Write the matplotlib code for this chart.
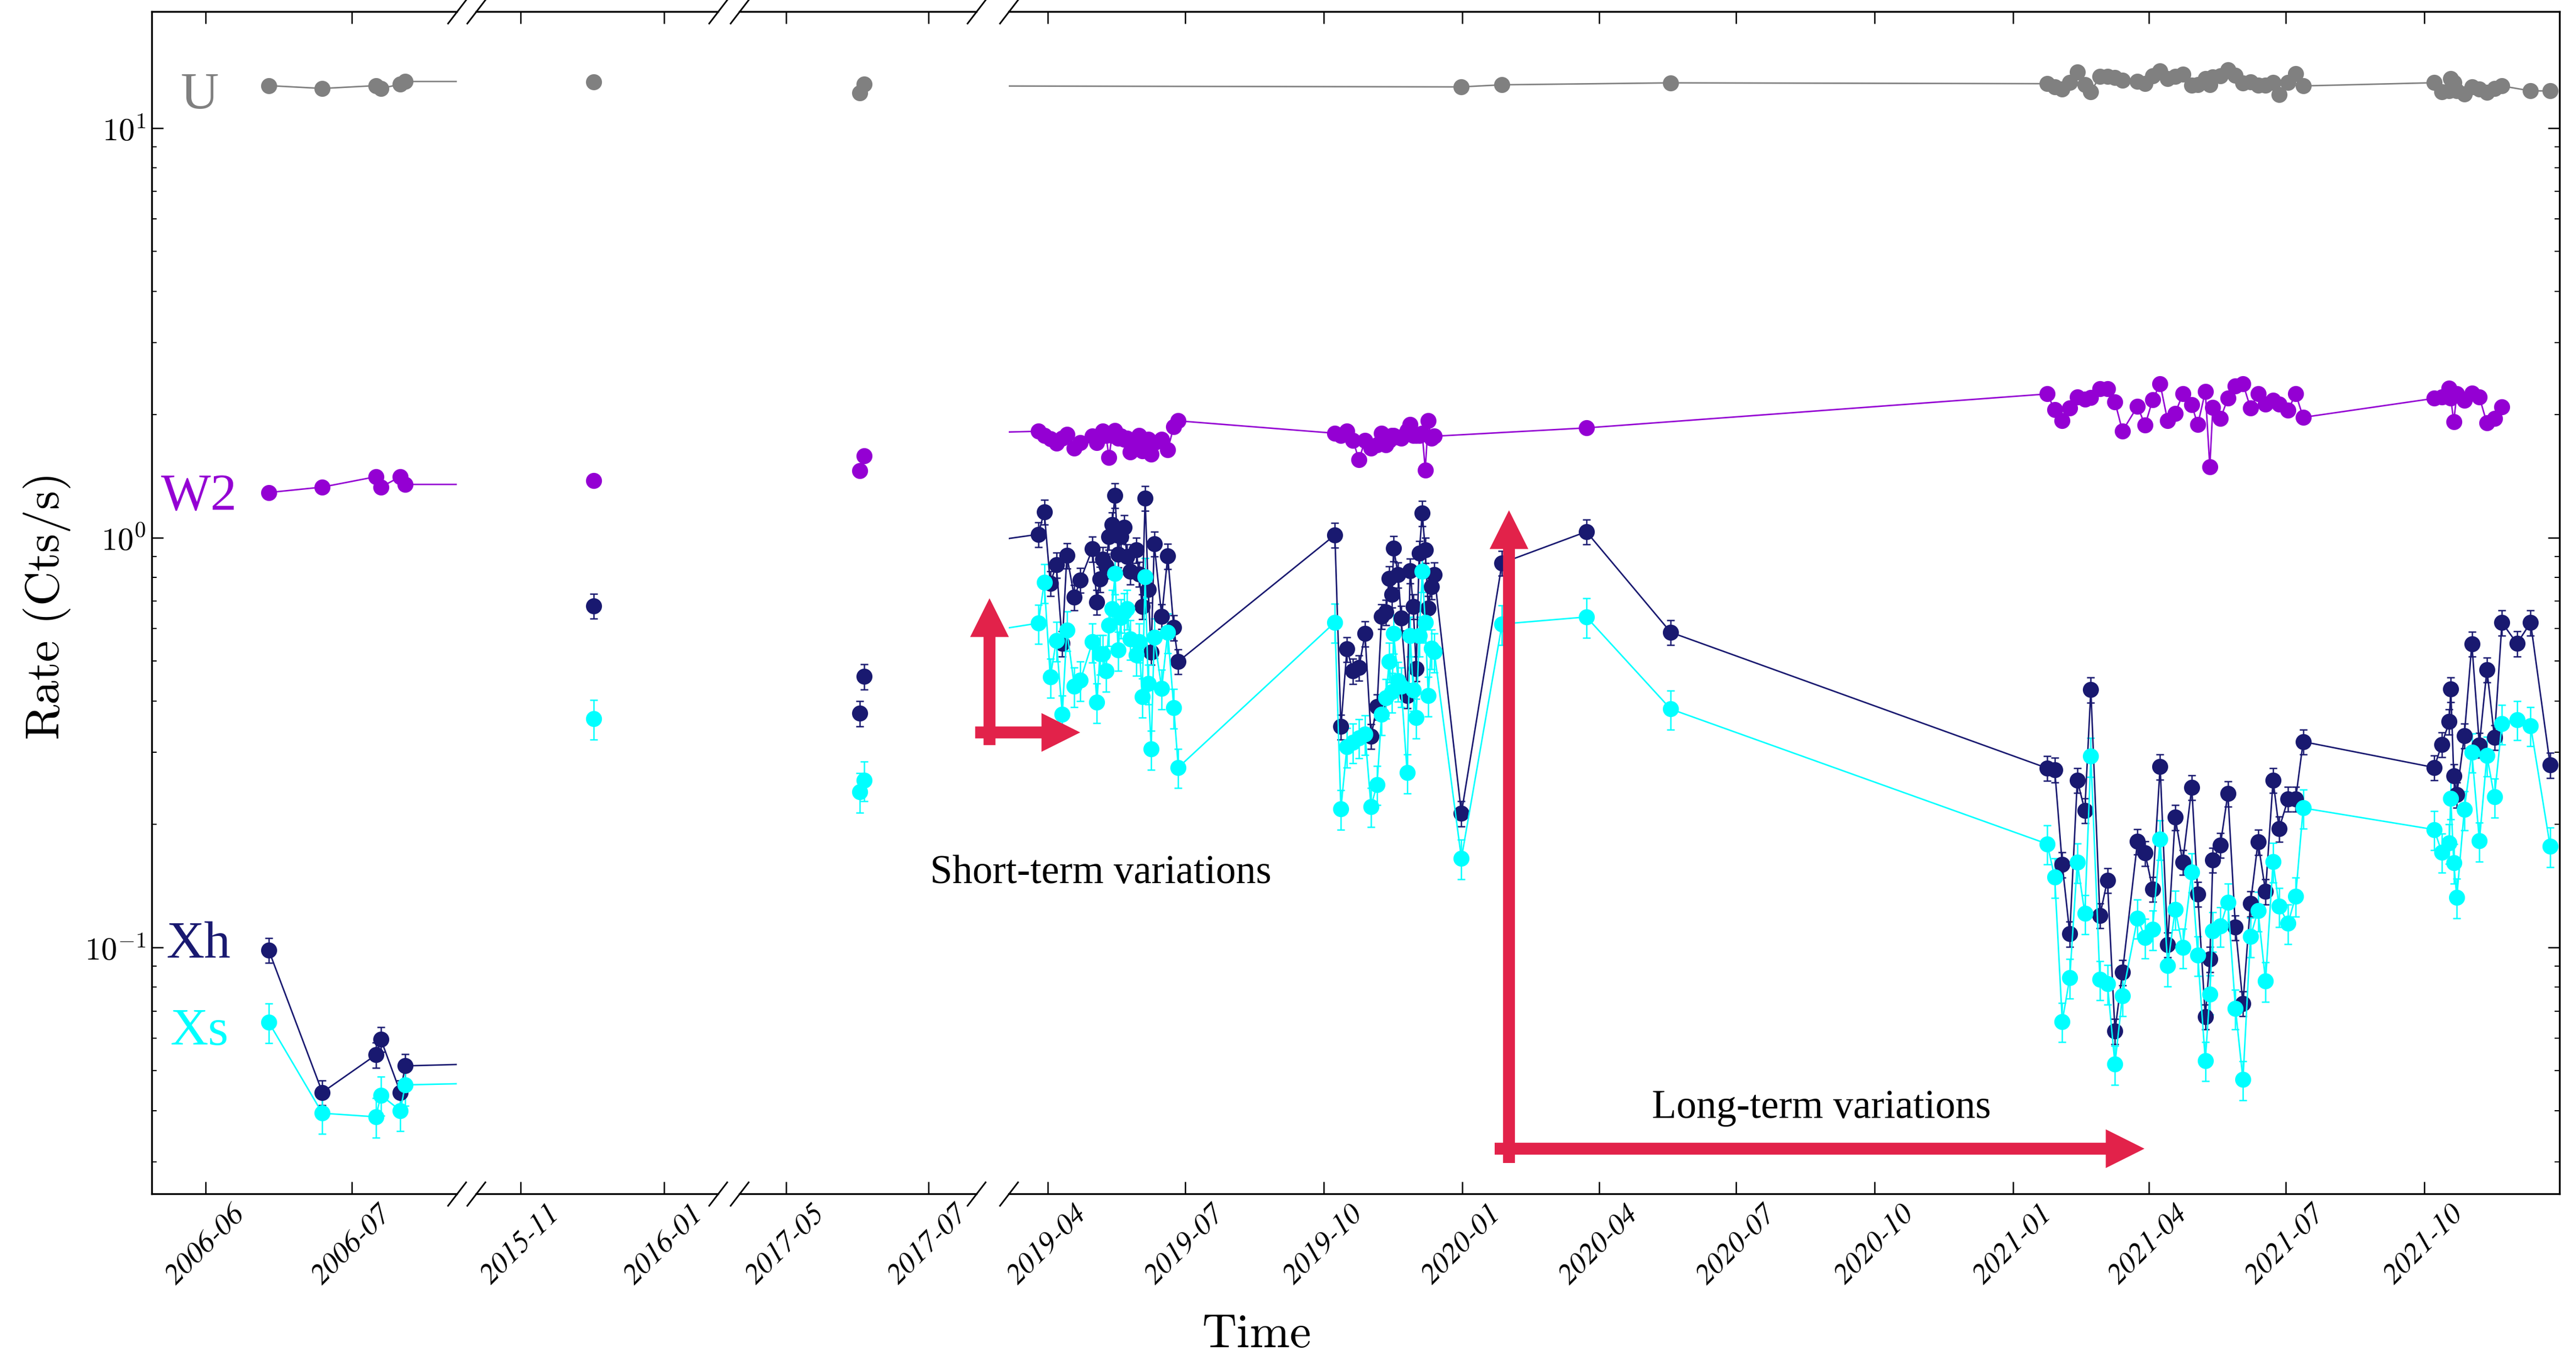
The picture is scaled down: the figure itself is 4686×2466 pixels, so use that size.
import matplotlib
matplotlib.use('Agg')
import matplotlib.pyplot as plt
from matplotlib.ticker import FuncFormatter, LogLocator, NullFormatter
import numpy as np
import pandas as pd

W, H, DPI = 4686, 2466, 300
plt.rcParams['mathtext.fontset'] = 'cm'
plt.rcParams['axes.linewidth'] = 0.8

# ---------------- data -------------------------------------------------
# observation epochs
t_2006 = ['2006-06-14', '2006-06-25', '2006-07-06', '2006-07-07', '2006-07-11', '2006-07-12']
t_2015 = ['2015-12-02']
t_2017 = ['2017-06-02', '2017-06-04']
t_2019a = ['2019-03-26', '2019-03-30', '2019-04-03', '2019-04-07', '2019-04-11', '2019-04-14',
           '2019-04-19', '2019-04-23', '2019-05-01', '2019-05-04', '2019-05-06', '2019-05-08',
           '2019-05-10', '2019-05-12', '2019-05-14', '2019-05-16', '2019-05-18', '2019-05-20',
           '2019-05-22', '2019-05-24', '2019-05-26', '2019-05-30', '2019-06-01', '2019-06-03',
           '2019-06-05', '2019-06-07', '2019-06-09', '2019-06-11', '2019-06-16', '2019-06-20',
           '2019-06-24', '2019-06-27']
t_2019b = ['2019-10-09', '2019-10-13', '2019-10-17', '2019-10-21', '2019-10-25', '2019-10-29',
           '2019-11-02', '2019-11-06', '2019-11-09', '2019-11-12', '2019-11-14', '2019-11-16',
           '2019-11-17', '2019-11-20', '2019-11-22', '2019-11-26', '2019-11-28', '2019-11-30',
           '2019-12-02', '2019-12-04', '2019-12-06', '2019-12-08', '2019-12-10', '2019-12-12',
           '2019-12-14']
t_2020_x = ['2020-01-01', '2020-01-28', '2020-03-24', '2020-05-19']
t_2020_w2 = ['2020-03-24']
t_2020_u = ['2020-01-01', '2020-01-28', '2020-05-19']
t_2021a = ['2021-01-24', '2021-01-29', '2021-02-03', '2021-02-08', '2021-02-13', '2021-02-18',
           '2021-02-22', '2021-02-28', '2021-03-05', '2021-03-10', '2021-03-15', '2021-03-25',
           '2021-03-30', '2021-04-04', '2021-04-09', '2021-04-14', '2021-04-19', '2021-04-24',
           '2021-04-30', '2021-05-04', '2021-05-09', '2021-05-12', '2021-05-14', '2021-05-19',
           '2021-05-24', '2021-05-29', '2021-06-03', '2021-06-08', '2021-06-13', '2021-06-18',
           '2021-06-23', '2021-06-27', '2021-07-03', '2021-07-08', '2021-07-13']
t_2021b = ['2021-10-08', '2021-10-13', '2021-10-18', '2021-10-19', '2021-10-21', '2021-10-23',
           '2021-10-28', '2021-11-02', '2021-11-07', '2021-11-12', '2021-11-17', '2021-11-22',
           '2021-12-02', '2021-12-11', '2021-12-24']
t_2021b_w2 = t_2021b[:12]
t_2021b_u = t_2021b[:12] + t_2021b[13:]

# UVOT U (Cts/s)
u_early = [12.7, 12.5, 12.7, 12.5, 12.8, 13.0, 12.97, 12.2, 12.8]
u_2020 = [12.61, 12.76, 12.9]
u_2021a = [12.84, 12.61, 12.45, 12.91, 13.71, 12.78, 12.28, 13.37, 13.37, 13.28, 13.07, 13.0,
           12.84, 13.42, 13.78, 13.19, 13.37, 13.52, 12.73, 12.78, 13.23, 12.78, 13.33, 13.42,
           13.86, 13.47, 12.88, 12.95, 12.73, 12.73, 12.91, 12.07, 12.91, 13.59, 12.68]
u_2021b = [12.91, 12.28, 12.33, 13.23, 12.91, 12.33, 12.11, 12.61, 12.45, 12.23, 12.5, 12.68,
           12.33, 12.33]

# UVOT W2
w2_early = [1.29, 1.33, 1.41, 1.33, 1.41, 1.35, 1.38, 1.46, 1.585]
w2_2019a = [1.82, 1.78, 1.745, 1.70, 1.75, 1.79, 1.655, 1.71, 1.77, 1.71, 1.78, 1.82, 1.78,
            1.57, 1.78, 1.83, 1.75, 1.77, 1.74, 1.75, 1.62, 1.71, 1.78, 1.63, 1.73, 1.74,
            1.60, 1.71, 1.74, 1.64, 1.87, 1.93]
w2_2019b = [1.80, 1.78, 1.82, 1.73, 1.55, 1.73, 1.655, 1.686, 1.80, 1.686, 1.73, 1.78, 1.78,
            1.76, 1.75, 1.83, 1.89, 1.78, 1.78, 1.78, 1.80, 1.465, 1.93, 1.75, 1.77]
w2_2020 = [1.855]
w2_2021a = [2.245, 2.054, 1.93, 2.072, 2.21, 2.178, 2.197, 2.31, 2.31, 2.147, 1.823, 2.095,
            1.883, 2.17, 2.375, 1.93, 2.011, 2.245, 2.11, 1.89, 2.273, 1.492, 2.084, 1.954,
            2.19, 2.35, 2.38, 2.076, 2.245, 2.121, 2.166, 2.121, 2.046, 2.25, 1.968]
w2_2021b = [2.19, 2.205, 2.317, 2.19, 1.923, 2.245, 2.166, 2.257, 2.205, 1.906, 1.958, 2.09]

# XRT hard band
xh_early = [0.0985, 0.0443, 0.0547, 0.0597, 0.0443, 0.0514, 0.682, 0.373, 0.459]
xh_2019a = [1.02, 1.157, 0.774, 0.859, 0.552, 0.906, 0.716, 0.789, 0.94, 0.697, 0.793, 0.887,
            0.855, 1.006, 1.077, 1.27, 0.911, 1.006, 1.06, 0.9, 0.828, 0.934, 0.816, 0.68,
            1.25, 0.748, 0.526, 0.967, 0.643, 0.903, 0.604, 0.499]
xh_2019b = [1.016, 0.346, 0.535, 0.473, 0.482, 0.584, 0.328, 0.387, 0.643, 0.659, 0.796, 0.727,
            0.943, 0.813, 0.637, 0.412, 0.831, 0.680, 0.48, 0.917, 1.149, 0.934, 0.673, 0.76,
            0.813]
xh_2020 = [0.2126, 0.868, 1.035, 0.588]
xh_2021a = [0.274, 0.2715, 0.1595, 0.108, 0.256, 0.216, 0.426, 0.1197, 0.146, 0.0625, 0.087,
            0.1816, 0.170, 0.139, 0.2765, 0.1016, 0.208, 0.1615, 0.246, 0.135, 0.0678, 0.0937,
            0.1637, 0.178, 0.2375, 0.112, 0.073, 0.128, 0.181, 0.137, 0.256, 0.195, 0.2306,
            0.2306, 0.318]
xh_2021b = [0.275, 0.313, 0.356, 0.427, 0.262, 0.236, 0.329, 0.551, 0.312, 0.477, 0.326, 0.621,
            0.552, 0.621, 0.279]

# XRT soft band
xs_early = [0.0657, 0.0394, 0.0386, 0.0436, 0.040, 0.0462, 0.362, 0.24, 0.256]
xs_2019a = [0.619, 0.778, 0.457, 0.561, 0.371, 0.595, 0.434, 0.449, 0.557, 0.397, 0.521, 0.521,
            0.473, 0.612, 0.671, 0.818, 0.532, 0.638, 0.659, 0.671, 0.566, 0.518, 0.557, 0.409,
            0.803, 0.441, 0.305, 0.572, 0.429, 0.588, 0.385, 0.275]
xs_2019b = [0.622, 0.218, 0.309, 0.317, 0.325, 0.332, 0.221, 0.25, 0.371, 0.407, 0.499, 0.421,
            0.585, 0.448, 0.434, 0.267, 0.577, 0.425, 0.364, 0.577, 0.828, 0.622, 0.412, 0.537,
            0.527]
xs_2020 = [0.165, 0.616, 0.641, 0.382]
xs_2021a = [0.179, 0.1485, 0.066, 0.0844, 0.1615, 0.121, 0.293, 0.0835, 0.0816, 0.0519, 0.0763,
            0.118, 0.1057, 0.1107, 0.184, 0.0902, 0.124, 0.1, 0.153, 0.0958, 0.053, 0.077,
            0.1097, 0.1128, 0.129, 0.071, 0.0476, 0.1064, 0.123, 0.0828, 0.162, 0.126, 0.1146,
            0.1335, 0.219]
xs_2021b = [0.194, 0.171, 0.18, 0.231, 0.161, 0.1325, 0.217, 0.3, 0.182, 0.294, 0.233, 0.352,
            0.36, 0.348, 0.1766]

# relative uncertainties
err_u, err_w2, err_xh, err_xs = 0.02, 0.03, 0.07, 0.11

t_early = t_2006 + t_2015 + t_2017
series = [
    ('U', t_early + t_2020_u + t_2021a + t_2021b_u,
     u_early + u_2020 + u_2021a + u_2021b, 'grey', err_u),
    ('W2', t_early + t_2019a + t_2019b + t_2020_w2 + t_2021a + t_2021b_w2,
     w2_early + w2_2019a + w2_2019b + w2_2020 + w2_2021a + w2_2021b, 'darkviolet', err_w2),
    ('Xh', t_early + t_2019a + t_2019b + t_2020_x + t_2021a + t_2021b,
     xh_early + xh_2019a + xh_2019b + xh_2020 + xh_2021a + xh_2021b, 'midnightblue', err_xh),
    ('Xs', t_early + t_2019a + t_2019b + t_2020_x + t_2021a + t_2021b,
     xs_early + xs_2019a + xs_2019b + xs_2020 + xs_2021a + xs_2021b, 'cyan', err_xs),
]

# broken time axis: (left px, right px, start, end, tick months)
segments = [
    (276, 831, '2006-05-21', '2006-07-22 14:00', [6, 7]),
    (866, 1306, '2015-10-13', '2016-01-24', [1, 11]),
    (1345, 1776, '2017-04-11 12:00', '2017-07-22', [5, 7]),
    (1835, 4656, '2019-03-06 10:00', '2021-12-30 05:00', [1, 4, 7, 10]),
]
ax_top, ax_bot = 21, 2171
tick_font = dict(family='STIXGeneral', fontstyle='italic', fontsize=13, rotation=45)

# ---------------- plot -------------------------------------------------
fig = plt.figure(figsize=(W / DPI, H / DPI), dpi=DPI)
axes = []
for i, (x0, x1, d0, d1, months) in enumerate(segments):
    ax = fig.add_axes([x0 / W, 1 - ax_bot / H, (x1 - x0) / W, (ax_bot - ax_top) / H],
                      sharey=axes[0] if axes else None)
    axes.append(ax)
    connect = i in (0, 3)
    for name, t, v, color, frac in series:
        v = np.array(v)
        ax.errorbar(pd.to_datetime(t), v, yerr=frac * v, fmt='o-' if connect else 'o',
                    color=color, ms=6, lw=0.65, elinewidth=0.6, capsize=1.6, capthick=0.6)
    ticks = [d for d in pd.date_range(d0, d1, freq='MS') if d.month in months]
    ax.set_xticks(ticks, [d.strftime('%Y-%m') for d in ticks], **tick_font)
    ax.set_xlim(pd.Timestamp(d0), pd.Timestamp(d1))
    ax.tick_params(axis='x', which='major', direction='in', length=5.3, width=0.6,
                   top=True, bottom=True, pad=3)
    ax.tick_params(axis='x', which='minor', top=False, bottom=False)

ax1, ax2, ax3, ax4 = axes
ax1.set_yscale('log')
ax1.set_ylim(0.02505, 19.26)
ax1.yaxis.set_major_locator(LogLocator(base=10))
ax1.yaxis.set_major_formatter(FuncFormatter(lambda v, p: r'$10^{%d}$' % round(np.log10(v))))
ax1.yaxis.set_minor_formatter(NullFormatter())

for ax in axes:
    ax.tick_params(axis='y', which='major', direction='in', length=5, width=0.6)
    ax.tick_params(axis='y', which='minor', direction='in', length=2.2, width=0.5)
    ax.tick_params(axis='y', which='both', left=False, right=False,
                   labelleft=False, labelright=False)
ax1.tick_params(axis='y', which='both', left=True, labelleft=True, labelsize=14, pad=2.5)
ax4.tick_params(axis='y', which='both', right=True)

ax1.spines['right'].set_visible(False)
for ax in (ax2, ax3):
    ax.spines['left'].set_visible(False)
    ax.spines['right'].set_visible(False)
ax4.spines['left'].set_visible(False)

# break marks
d = 1.3
kw = dict(marker=[(-1, -d), (1, d)], markersize=10.8, linestyle='none', color='k',
          mec='k', mew=0.7, clip_on=False)
for left, right in zip(axes[:-1], axes[1:]):
    left.plot([1, 1], [0, 1], transform=left.transAxes, **kw)
    right.plot([0, 0], [0, 1], transform=right.transAxes, **kw)
for (x0, x1, d0, d1, months), ax in zip(segments, axes):
    ax.set_xlim(pd.Timestamp(d0), pd.Timestamp(d1))
ax1.set_ylim(0.02505, 19.26)

# labels
fig.text(85 / W, 1 - 1101 / H, 'Rate (Cts/s)', rotation=90, ha='center', va='center',
         family='cmr10', fontsize=21)
fig.text(2286 / W, 1 - 2450 / H, 'Time', ha='center', va='baseline',
         family='cmr10', fontsize=21)

label_pos = {'U': (364, 198), 'W2': (362, 928), 'Xh': (361, 1743), 'Xs': (363, 1900)}
for name, t, v, color, frac in series:
    px, py = label_pos[name]
    fig.text(px / W, 1 - py / H, name, color=color, ha='center', va='baseline',
             family='Liberation Serif', fontsize=23)

fig.text(1692 / W, 1 - 1606 / H, 'Short-term variations', ha='left', va='baseline',
         family='Liberation Serif', fontsize=17.5)
fig.text(3005 / W, 1 - 2033 / H, 'Long-term variations', ha='left', va='baseline',
         family='Liberation Serif', fontsize=17.5)

red = '#E2224A'
arrow = dict(arrowstyle='simple,head_length=0.65,head_width=0.65,tail_width=0.2',
             color=red, shrinkA=0, shrinkB=0, mutation_scale=26, lw=0)
for (xa, ya), (xb, yb) in [((1800, 1355), (1800, 1088)), ((1774, 1332), (1965, 1332)),
                           ((2745, 2115), (2745, 928)), ((2719, 2089), (3901, 2089))]:
    ax4.annotate('', xy=(xb, H - yb), xytext=(xa, H - ya), xycoords='figure pixels',
                 textcoords='figure pixels', arrowprops=arrow, annotation_clip=False)

fig.savefig('out.png', dpi=DPI)
